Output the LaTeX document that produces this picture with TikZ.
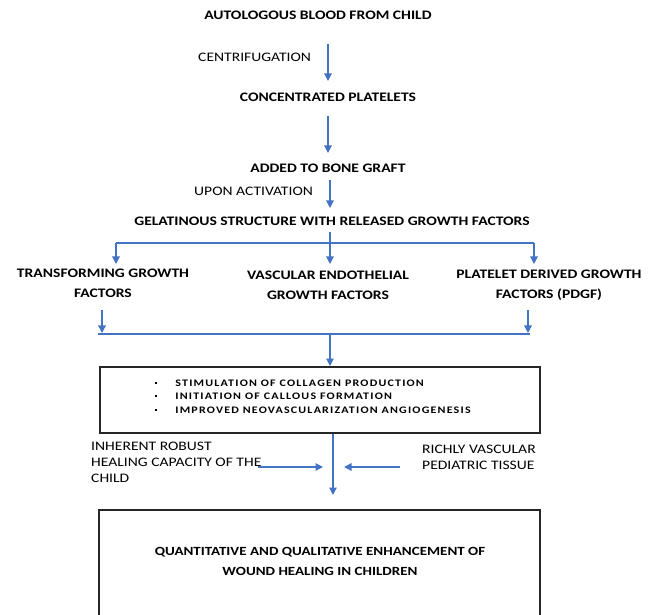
\documentclass[tikz,border=0pt]{standalone}
\usepackage{fontspec}
\setmainfont[FakeStretch=1.2]{Carlito}
\newfontfamily\bulletfont[FakeStretch=1.2, LetterSpace=12]{Carlito}
\usetikzlibrary{arrows.meta}
\definecolor{arrblue}{RGB}{68,114,196}
\tikzset{
  bold/.style={font=\fontsize{13}{20}\selectfont\bfseries, inner sep=0pt},
  reg/.style={font=\fontsize{13}{16}\selectfont, inner sep=0pt},
  arr/.style={draw=arrblue, line width=1.3pt, -{Triangle[width=7.5pt,length=7.5pt]}},
  ln/.style={draw=arrblue, line width=1.3pt},
  box/.style={draw=black!85, line width=1.3pt, inner sep=0pt},
}
\newcommand{\smbul}{\raisebox{0.5ex}{\rule{2.2pt}{2.2pt}}}
\begin{document}
\begin{tikzpicture}[x=1pt,y=-1pt]
\useasboundingbox (0,0) rectangle (657,615);
% top chain
\node[bold] (auto) at (318,15) {AUTOLOGOUS BLOOD FROM CHILD};
\node[reg, anchor=west] (centri) at (198,57) {CENTRIFUGATION};
\node[bold] (conc) at (328,97) {CONCENTRATED PLATELETS};
\node[bold] (added) at (328,168) {ADDED TO BONE GRAFT};
\node[reg, anchor=west] (upon) at (194,191) {UPON ACTIVATION};
\node[bold] (gel) at (332,221) {GELATINOUS STRUCTURE WITH RELEASED GROWTH FACTORS};
\coordinate (a1s) at (328,44); \coordinate (a1e) at (328,81);
\coordinate (a2s) at (328,116); \coordinate (a2e) at (328,153);
\coordinate (a3s) at (330,180); \coordinate (a3e) at (330,208);
\draw[arr] (a1s) -- (a1e);
\draw[arr] (a2s) -- (a2e);
\draw[arr] (a3s) -- (a3e);
% branch
\node[bold, align=center] (tgf) at (103,283) {TRANSFORMING GROWTH\\FACTORS};
\node[bold, align=center] (vegf) at (328,285) {VASCULAR ENDOTHELIAL\\GROWTH FACTORS};
\node[bold, align=center] (pdgf) at (549,285) {PLATELET DERIVED GROWTH\\FACTORS (PDGF)};
\coordinate (bt) at (330,232);
\coordinate (bl) at (116,243);
\coordinate (br) at (534,243);
\coordinate (blE) at (116,264);
\coordinate (bcE) at (330,264);
\coordinate (brE) at (534,264);
\draw[ln] (bl) -- (br);
\draw[arr] (bt) -- (bcE);
\draw[arr] (bl) -- (blE);
\draw[arr] (br) -- (brE);
% merge
\coordinate (ml) at (102,310); \coordinate (mlE) at (102,333);
\coordinate (mr) at (528,310); \coordinate (mrE) at (528,333);
\coordinate (mL) at (98,334); \coordinate (mR) at (530,334);
\coordinate (mc) at (330,334); \coordinate (mcE) at (330,366);
\draw[arr] (ml) -- (mlE);
\draw[arr] (mr) -- (mrE);
\draw[ln] (mL) -- (mR);
\draw[arr] (mc) -- (mcE);
% box 1
\node[box, minimum width=440, minimum height=66] (box1) at (320,400) {};
\node[anchor=west, inner sep=0pt, font=\bulletfont\fontsize{10}{13.5}\selectfont\bfseries] (bullets) at (155,397)
  {\begin{tabular}{@{}l@{\hspace{18pt}}l@{}}
   \smbul & STIMULATION OF COLLAGEN PRODUCTION\\
   \smbul & INITIATION OF CALLOUS FORMATION\\
   \smbul & IMPROVED NEOVASCULARIZATION ANGIOGENESIS
   \end{tabular}};
% side inputs
\node[reg, anchor=north west, align=left] (inh) at (91,442) {INHERENT ROBUST\\HEALING CAPACITY OF THE\\CHILD};
\node[reg, anchor=north west, align=left] (rich) at (422,445) {RICHLY VASCULAR\\PEDIATRIC TISSUE};
\coordinate (l1) at (258,467); \coordinate (l1E) at (323,467);
\coordinate (r1) at (400,467); \coordinate (r1E) at (344,467);
\draw[arr] (l1) -- (l1E);
\draw[arr] (r1) -- (r1E);
\draw[arr] (box1.south -| 333,0) -- (333,495);
% box 2
\node[box, minimum width=441, minimum height=112] (box2) at (319.5,566) {};
\node[bold, align=center, font=\fontsize{12.5}{20}\selectfont\bfseries] (res) at (320,561) {QUANTITATIVE AND QUALITATIVE ENHANCEMENT OF\\WOUND HEALING IN CHILDREN};
\end{tikzpicture}
\end{document}
